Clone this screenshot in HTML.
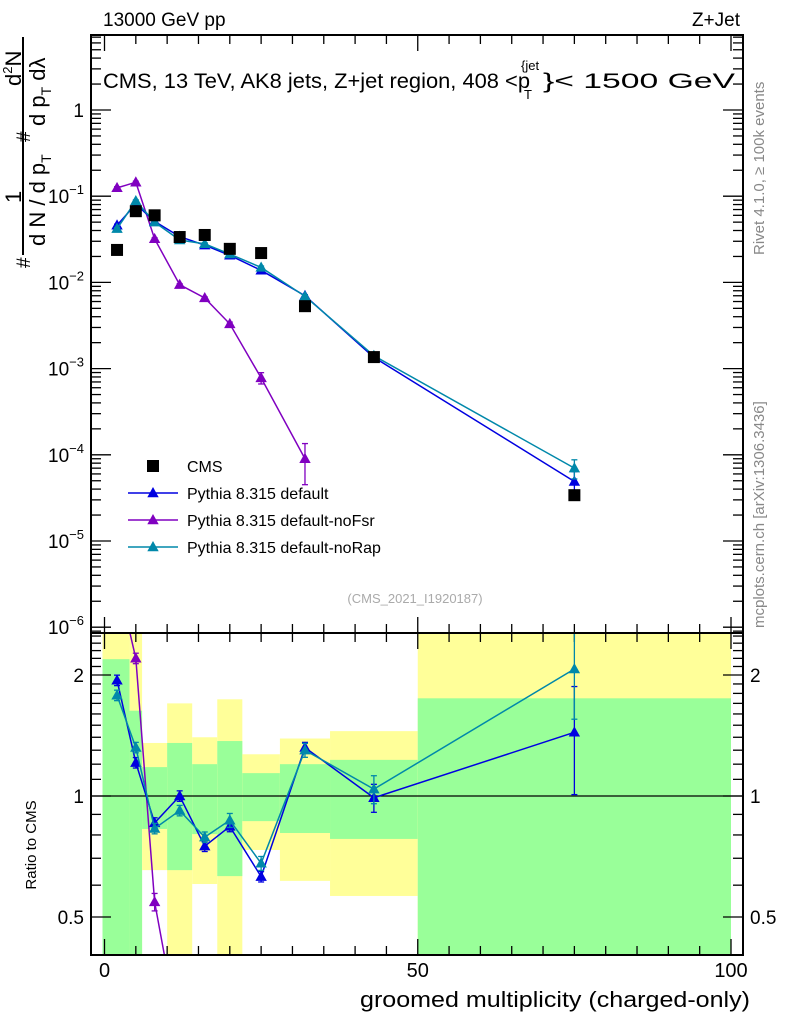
<!DOCTYPE html>
<html><head><meta charset="utf-8"><style>
body{margin:0;background:#fff}
svg{display:block;font-family:"Liberation Sans",sans-serif}
</style></head><body>
<svg id="c" width="786" height="1024" viewBox="0 0 786 1024">
<rect width="786" height="1024" fill="#fff"/>
<g id="bands"></g>
<g id="grid"></g>
<g id="series"></g>
<rect x="91" y="35" width="652" height="598" fill="none" stroke="#000" stroke-width="2"/>
<rect x="91" y="633" width="652" height="322" fill="none" stroke="#000" stroke-width="2"/>
<text x="103" y="26" font-size="19">13000 GeV pp</text>
<text x="740" y="26" font-size="19" text-anchor="end">Z+Jet</text>
<g>
<text x="103" y="88" font-size="21" textLength="427" lengthAdjust="spacingAndGlyphs">CMS, 13 TeV, AK8 jets, Z+jet region, 408 &lt;p</text>
<text x="524" y="99" font-size="13">T</text>
<text x="521" y="70" font-size="13">{jet</text>
<text x="543" y="88" font-size="21" textLength="192" lengthAdjust="spacingAndGlyphs">}&lt; 1500 GeV</text>
</g>
<text x="415" y="603" font-size="13" fill="#aaa" text-anchor="middle">(CMS_2021_I1920187)</text>
<text transform="translate(764,255) rotate(-90)" font-size="15" fill="#888">Rivet 4.1.0, ≥ 100k events</text>
<text transform="translate(764,628) rotate(-90)" font-size="15" fill="#888">mcplots.cern.ch [arXiv:1306.3436]</text>
<g font-size="22">
<line x1="23" y1="255" x2="23" y2="37" stroke="#000" stroke-width="2"/>
<text transform="translate(21,203) rotate(-90)">1</text>
<text transform="translate(21,86) rotate(-90)">d<tspan font-size="13" dy="-9">2</tspan><tspan dy="9">N</tspan></text>
<text transform="translate(45,246) rotate(-90)">d N / d p<tspan font-size="14" dy="6">T</tspan></text>
<text transform="translate(45,126) rotate(-90)">d p<tspan font-size="14" dy="6">T</tspan><tspan dy="-6">  dλ</tspan></text>
<text transform="translate(30,268) rotate(-90)" font-size="19">#</text>
<text transform="translate(30,142) rotate(-90)" font-size="19">#</text>
</g>
<text transform="translate(36,845) rotate(-90)" font-size="15" text-anchor="middle">Ratio to CMS</text>
<text x="750" y="1007" font-size="22" text-anchor="end" textLength="390" lengthAdjust="spacingAndGlyphs">groomed multiplicity (charged-only)</text>
<g id="legend"></g>
</svg>
<script>
const xCenters=[2,5,8,12,16,20,25,32,43,75];
const binEdges=[0,4,6,10,14,18,22,28,36,50,100];
const cmsVals=[0.0238,0.067,0.060,0.0336,0.0355,0.0245,0.0219,0.0053,0.00136,3.4e-5];
const defVals=[0.046,0.081,0.051,0.034,0.027,0.0206,0.0138,0.0070,0.00135,4.9e-5];
const noRapVals=[0.042,0.088,0.050,0.031,0.028,0.0213,0.0149,0.0069,0.00141,7.0e-5];
const noFsrVals=[0.125,0.145,0.032,0.0094,0.0066,0.0033,0.00078,9e-5];
const defRatio=[1.94,1.21,0.857,1.0,0.75,0.84,0.63,1.32,0.99,1.44];
const noRapRatio=[1.78,1.32,0.83,0.92,0.79,0.87,0.68,1.30,1.04,2.07];
const noFsrRatio=[3.5,2.2,0.545,0.25];
const yellowHi=[3,3,1.355,1.70,1.40,1.74,1.27,1.39,1.45,3];
const greenHi=[2.19,1.63,1.18,1.355,1.20,1.37,1.14,1.20,1.23,1.75];
const greenLo=[0.3,0.3,0.828,0.654,0.804,0.632,0.866,0.809,0.782,0.3];
const yellowLo=[0.3,0.3,0.654,0.3,0.604,0.3,0.734,0.615,0.564,0.3];
const defRelErr=[0.03,0.03,0.03,0.03,0.03,0.03,0.03,0.03,0.08,0.3];
const noRapRelErr=[0.03,0.03,0.03,0.03,0.03,0.04,0.04,0.04,0.08,0.25];
const xTickLabels=["0","50","100"];
const mainTickExps=[0,-1,-2,-3,-4,-5,-6];
const ratioTickLabels=[0.5,1,2];

const NS="http://www.w3.org/2000/svg";
const X=v=>104.5+v*6.265;
const Y=v=>110-Math.log10(v)*86.2;
const R=v=>796-Math.log2(v)*121;
function mk(tag,attrs,parent){const e=document.createElementNS(NS,tag);for(const k in attrs)e.setAttribute(k,attrs[k]);parent.appendChild(e);return e;}
const bands=document.getElementById('bands'),grid=document.getElementById('grid'),ser=document.getElementById('series'),leg=document.getElementById('legend');
const clip=(v,lo,hi)=>Math.max(lo,Math.min(hi,v));
const rY=v=>clip(R(v),633,955);
for(let i=0;i<xCenters.length;i++){
 const x0=X(binEdges[i])-(i===0?2:0),x1=X(binEdges[i+1]);
 let e=mk('rect',{x:x0,y:rY(yellowHi[i]),width:x1-x0,height:rY(yellowLo[i])-rY(yellowHi[i]),fill:'#ffff99'},bands);
 
 e=mk('rect',{x:x0,y:rY(greenHi[i]),width:x1-x0,height:rY(greenLo[i])-rY(greenHi[i]),fill:'#99ff99'},bands);
 
}
let l1=mk('line',{x1:91,x2:743,y1:R(1),y2:R(1),stroke:'#000','stroke-width':1.3},grid);

for(let v=0;v<=100;v+=5){
 const big=v%50===0, len=big?16:9;
 mk('line',{x1:X(v),x2:X(v),y1:955,y2:955-len,stroke:'#000','stroke-width':1.3},grid);
 mk('line',{x1:X(v),x2:X(v),y1:633,y2:633-len,stroke:'#000','stroke-width':1.3},grid);
 mk('line',{x1:X(v),x2:X(v),y1:633,y2:633+len,stroke:'#000','stroke-width':1.3},grid);
 mk('line',{x1:X(v),x2:X(v),y1:35,y2:35+len,stroke:'#000','stroke-width':1.3},grid);
}
xTickLabels.forEach(t=>{const e=mk('text',{x:X(+t),y:977,'font-size':20,'text-anchor':'middle'},grid);e.textContent=t;
 });
for(let d=-7;d<=1;d++){for(let m=1;m<10;m++){const v=m*Math.pow(10,d);const y=Y(v);if(y<36||y>632)continue;
 const len=m===1?20:10;
 mk('line',{x1:91,x2:91+len,y1:y,y2:y,stroke:'#000','stroke-width':1.3},grid);
 mk('line',{x1:743,x2:743-len,y1:y,y2:y,stroke:'#000','stroke-width':1.3},grid);}}
mainTickExps.forEach(p=>{const y=Y(Math.pow(10,p));
 const e=mk('text',{x:84,y:y+7,'font-size':19,'text-anchor':'end'},grid);
 
 if(p===0)e.textContent='1';else{e.textContent='10';const s=mk('tspan',{dy:-9,'font-size':13},e);s.textContent=String(p).replace('-','−');}});
for(let v=0.4;v<=2.6;v+=0.1){const y=R(v);if(y<634||y>954)continue;
 const big=[0.5,1,2].some(b=>Math.abs(b-v)<1e-6);const len=big?20:10;
 mk('line',{x1:91,x2:91+len,y1:y,y2:y,stroke:'#000','stroke-width':1.3},grid);
 mk('line',{x1:743,x2:743-len,y1:y,y2:y,stroke:'#000','stroke-width':1.3},grid);}
ratioTickLabels.forEach(v=>{for(const [x,a] of [[84,'end'],[750,'start']]){
 const e=mk('text',{x:x,y:R(v)+7,'font-size':19,'text-anchor':a},grid);e.textContent=String(v);
 }});

function tri(x,y,c,g,s){return mk('polygon',{points:`${x},${y-s} ${x-s*0.95},${y+s*0.7} ${x+s*0.95},${y+s*0.7}`,fill:c},g);}
function series(vals,yf,color,name,clipTop,clipBot,errs,width){
 const g=mk('g',{},ser);
 const cp='M'+vals.map((v,i)=>X(xCenters[i])+','+yf(v)).join(' L');
 mk('path',{d:cp,fill:'none',stroke:color,'stroke-width':width||1.5},g);
 vals.forEach((v,i)=>{const x=X(xCenters[i]),y=yf(v);if(y<clipTop||y>clipBot)return;
  if(errs){const e=errs[i];const ya=yf(v*(1+e)),yb=yf(v*(1-e));
   mk('line',{x1:x,x2:x,y1:ya,y2:yb,stroke:color,'stroke-width':1.3},g);
   mk('line',{x1:x-3,x2:x+3,y1:ya,y2:ya,stroke:color,'stroke-width':1.3},g);
   mk('line',{x1:x-3,x2:x+3,y1:yb,y2:yb,stroke:color,'stroke-width':1.3},g);}
  const t=tri(x,y,color,g,6);});
 return g;}
const defs=mk('defs',{},ser);
const cpR=mk('clipPath',{id:'rc'},defs);mk('rect',{x:91,y:633,width:652,height:322},cpR);
const cpM=mk('clipPath',{id:'mc'},defs);mk('rect',{x:91,y:35,width:652,height:598},cpM);
const gm=mk('g',{'clip-path':'url(#mc)'},ser);
const gr=mk('g',{'clip-path':'url(#rc)'},ser);
function put(g,target){target.appendChild(g);}
put(series(noFsrVals,Y,'#8000c0','nofsr-series',35,633,[0.03,0.03,0.03,0.03,0.03,0.05,0.15,0.5]),gm);
put(series(defVals,Y,'#0000e0','default-series',35,633,defRelErr),gm);
put(series(noRapVals,Y,'#0088aa','norap-series',35,633,noRapRelErr),gm);
cmsVals.forEach((v,i)=>{const e=mk('rect',{x:X(xCenters[i])-6,y:Y(v)-6,width:12,height:12,fill:'#000'},gm);
 });
put(series(noFsrRatio,R,'#8000c0','nofsr-ratio',633,955,[0.03,0.03,0.05,0.05]),gr);
put(series(defRatio,R,'#0000e0','default-ratio',633,955,defRelErr),gr);
put(series(noRapRatio,R,'#0088aa','norap-ratio',633,955,noRapRelErr),gr);
const items=[['CMS','#000','sq'],['Pythia 8.315 default','#0000e0'],['Pythia 8.315 default-noFsr','#8000c0'],['Pythia 8.315 default-noRap','#0088aa']];
items.forEach((it,i)=>{const y=466+i*27;const g=mk('g',{},leg);
 
 if(it[2]){mk('rect',{x:147,y:y-6,width:12,height:12,fill:'#000'},g);}
 else{mk('line',{x1:128,x2:178,y1:y,y2:y,stroke:it[1],'stroke-width':1.5},g);tri(153,y,it[1],g,6);}
 const t=mk('text',{x:187,y:y+6,'font-size':16},g);t.textContent=it[0];});
</script>
</body></html>
